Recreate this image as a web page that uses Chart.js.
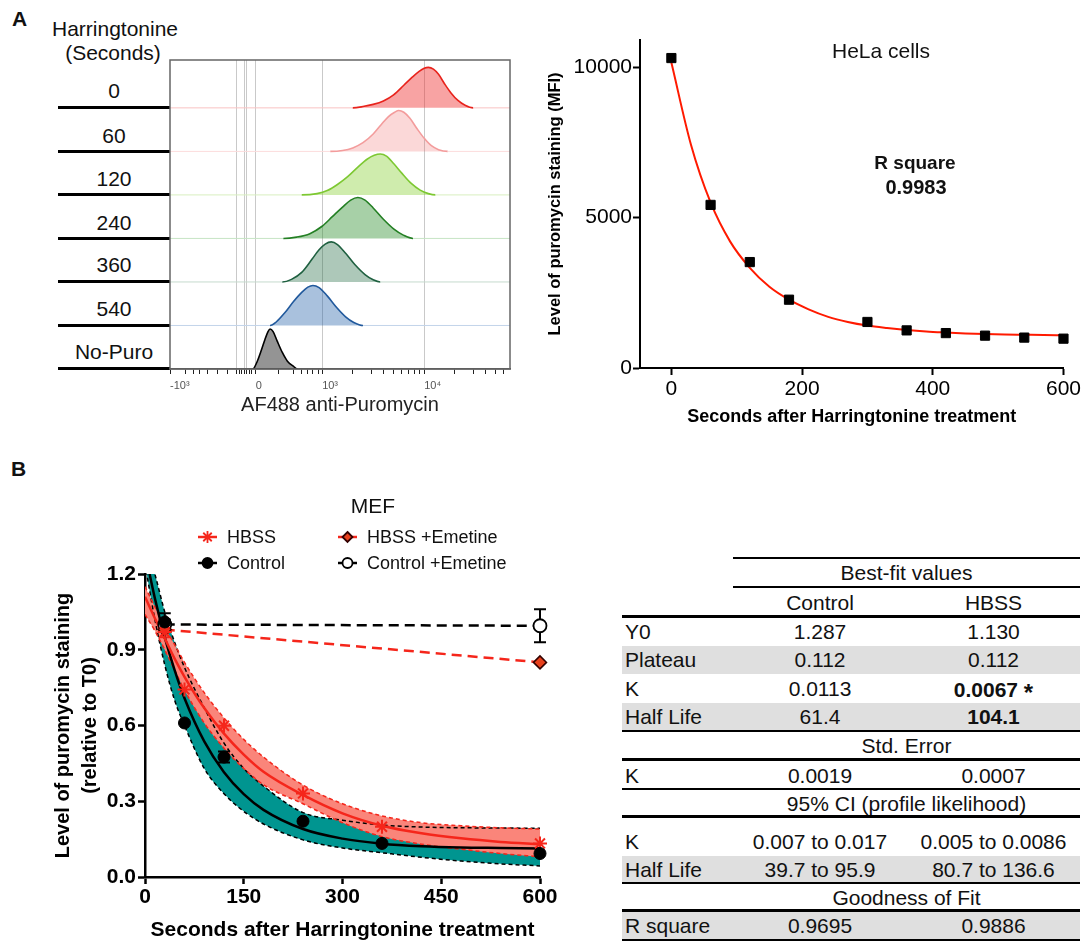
<!DOCTYPE html>
<html>
<head>
<meta charset="utf-8">
<script src="https://cdn.jsdelivr.net/npm/chart.js@4.4.0/dist/chart.umd.min.js"></script>
<style>
  body { margin: 0; width: 1083px; height: 941px; position: relative; overflow: hidden; background: #fff;
         font-family: "Liberation Sans", Arial, Helvetica, sans-serif; color: #111; }
  canvas { position: absolute; }
  .c { position: absolute; transform: translate(-50%, -50%); white-space: nowrap; line-height: 1; }
  .panel { position: absolute; font-weight: bold; font-size: 21px; line-height: 1; }
  .sep { position: absolute; left: 58px; width: 112px; height: 3px; background: #000; }
  .tline { position: absolute; background: #000; }
  .trow { position: absolute; left: 622px; width: 458px; font-size: 21px; }
  .trow div { position: absolute; top: 0; white-space: nowrap; }
</style>
</head>
<body>

<div class="panel" style="left:12px; top:8px">A</div>
<div class="panel" style="left:11px; top:458px">B</div>

<div class="c" style="left:115px; top:28px; font-size:21px">Harringtonine</div>
<div class="c" style="left:113px; top:52px; font-size:21px">(Seconds)</div>
<div id="rowLabels"></div>

<canvas id="flowChart" width="540" height="420" style="left:0; top:0"></canvas>
<canvas id="helaChart" width="543" height="440" style="left:540px; top:0"></canvas>
<canvas id="mefChart" width="560" height="491" style="left:0; top:450px"></canvas>

<div class="c" style="left:881px; top:50px; font-size:21px">HeLa cells</div>
<div class="c" style="left:915px; top:162px; font-size:19px; font-weight:bold">R square</div>
<div class="c" style="left:916px; top:187px; font-size:20px; font-weight:bold">0.9983</div>

<div id="fitTable"></div>

<script>
Chart.defaults.font.family = '"Liberation Sans", Arial, Helvetica, sans-serif';
Chart.defaults.color = '#000';

// ---- Panel A, flow histograms (x in logicle decades, height relative to row)
const flowLabels = ['0', '60', '120', '240', '360', '540', 'No-Puro'];
const hist0 = [[3.30, 0], [3.40, .03], [3.50, .08], [3.60, .16], [3.70, .30], [3.80, .52], [3.88, .70], [3.95, .84], [4.00, .91], [4.04, .93], [4.09, .89], [4.14, .77], [4.20, .55], [4.26, .35], [4.33, .17], [4.40, .06], [4.48, 0]];
const hist60 = [[3.08, 0], [3.20, .02], [3.30, .08], [3.40, .20], [3.50, .40], [3.58, .62], [3.65, .80], [3.71, .90], [3.75, .94], [3.80, .90], [3.86, .76], [3.93, .52], [4.00, .30], [4.07, .13], [4.14, .04], [4.23, 0]];
const hist120 = [[2.80, 0], [2.95, .03], [3.05, .10], [3.15, .24], [3.25, .42], [3.35, .64], [3.44, .82], [3.51, .91], [3.57, .94], [3.63, .89], [3.70, .72], [3.78, .50], [3.87, .27], [3.96, .11], [4.04, .03], [4.11, 0]];
const hist240 = [[2.62, 0], [2.75, .03], [2.88, .11], [3.00, .28], [3.10, .50], [3.20, .72], [3.28, .88], [3.35, .94], [3.42, .88], [3.50, .70], [3.60, .44], [3.70, .22], [3.80, .07], [3.89, 0]];
const hist360 = [[2.61, 0], [2.70, .06], [2.80, .22], [2.90, .52], [2.97, .74], [3.03, .87], [3.09, .92], [3.15, .86], [3.23, .66], [3.32, .40], [3.42, .17], [3.50, .05], [3.57, 0]];
const hist540 = [[2.49, 0], [2.55, .08], [2.63, .28], [2.72, .55], [2.80, .76], [2.86, .88], [2.91, .92], [2.97, .87], [3.05, .68], [3.14, .42], [3.23, .20], [3.31, .07], [3.40, 0]];
const histNoPuro = [[2.32, 0], [2.36, .15], [2.40, .40], [2.44, .68], [2.47, .86], [2.49, .92], [2.52, .86], [2.56, .64], [2.61, .38], [2.66, .18], [2.72, .06], [2.76, 0]];
const flowHists = [hist0, hist60, hist120, hist240, hist360, hist540, histNoPuro];

const flowMajor = [1.51, 2.35, 3, 4];
const flowMajorText = ['-10\u00B3', '0', '10\u00B3', '10\u2074'];
const flowMinor = [1.66, 1.74, 1.80, 1.88, 1.98, 2.07, 2.19, 2.21, 2.29, 2.31, 2.57, 2.72, 2.80, 2.86, 2.91, 2.96,
                   3.30, 3.48, 3.60, 3.70, 3.78, 3.85, 3.90, 3.95, 4.30, 4.48, 4.60, 4.70, 4.78];
const flowGridAt = [2.16, 2.24, 2.26, 2.35, 3, 4];

// ---- Panel A, HeLa MFI
const helaTime = [0, 60, 120, 180, 300, 360, 420, 480, 540, 600];
const helaMFI = [10300, 5420, 3520, 2270, 1530, 1250, 1160, 1075, 1010, 975];
const helaFitTime = [0, 30, 60, 90, 120, 150, 180, 210, 240, 270, 300, 330, 360, 390, 420, 450, 480, 510, 540, 570, 600];
const helaFit = [10150, 7420, 5500, 4200, 3330, 2700, 2270, 1950, 1700, 1530, 1410, 1330, 1265, 1215, 1180, 1150, 1130, 1115, 1105, 1095, 1090];

// ---- Panel B, MEF
const timePts = [30, 60, 120, 240, 360, 600];
const ctrlMean = [1.01, 0.61, 0.475, 0.221, 0.133, 0.093];
const ctrlErr = [0.035, 0, 0.022, 0, 0, 0];
const hbssMean = [0.97, 0.743, 0.599, 0.331, 0.199, 0.133];
const hbssErr = [0.02, 0, 0, 0, 0, 0];
const emetTime = [30, 600];
const ctrlEmet = [1.0, 0.995];
const ctrlEmetErr = [0.02, 0.065];
const hbssEmet = [0.98, 0.85];
const fitTime = [0, 15, 30, 45, 60, 90, 120, 150, 180, 240, 300, 360, 420, 480, 540, 600];
const ctrlFit = [1.287, 1.104, 0.949, 0.819, 0.708, 0.537, 0.415, 0.328, 0.266, 0.190, 0.152, 0.132, 0.122, 0.117, 0.115, 0.113];
const ctrlLow = [1.24, 1.02, 0.84, 0.70, 0.60, 0.43, 0.33, 0.26, 0.21, 0.147, 0.115, 0.096, 0.078, 0.063, 0.052, 0.044];
const ctrlHigh = [1.33, 1.20, 1.05, 0.93, 0.83, 0.67, 0.53, 0.43, 0.36, 0.255, 0.225, 0.206, 0.198, 0.195, 0.194, 0.193];
const hbssFit = [1.11, 1.025, 0.945, 0.865, 0.793, 0.669, 0.568, 0.485, 0.417, 0.325, 0.252, 0.203, 0.173, 0.153, 0.139, 0.130];
const hbssLow = [1.04, 0.975, 0.90, 0.82, 0.74, 0.61, 0.51, 0.43, 0.365, 0.29, 0.215, 0.16, 0.13, 0.11, 0.093, 0.080];
const hbssHigh = [1.15, 1.07, 0.99, 0.92, 0.85, 0.73, 0.63, 0.545, 0.475, 0.364, 0.29, 0.242, 0.215, 0.203, 0.195, 0.19];

// ---- Panel B, fit table
const fitParams = ['Y0', 'Plateau', 'K', 'Half Life'];
const ctrlBest = ['1.287', '0.112', '0.0113', '61.4'];
const hbssBest = ['1.130', '0.112', '0.0067', '104.1'];
const hbssBold = [false, false, true, true];
const stdErrK = ['0.0019', '0.0007'];
const ciParams = ['K', 'Half Life'];
const ctrlCI = ['0.007 to 0.017', '39.7 to 95.9'];
const hbssCI = ['0.005 to 0.0086', '80.7 to 136.6'];
const rSquare = ['0.9695', '0.9886'];

const red = '#f5261b';
const toXY = (xs, ys) => xs.map((x, i) => ({ x: x, y: ys[i] }));

// row labels and separators left of the histograms
const rowBox = document.getElementById('rowLabels');
const labelY = [90, 135, 178, 222, 264, 308, 351];
flowLabels.forEach((t, i) => {
    rowBox.insertAdjacentHTML('beforeend',
        '<div class="c" style="left:114px; top:' + labelY[i] + 'px; font-size:21px">' + t + '</div>' +
        '<div class="sep" style="top:' + (106 + i * 43.5) + 'px"></div>');
});

const frameBox = {
    id: 'frameBox',
    afterDatasetsDraw(chart) {
        const { ctx, chartArea: a } = chart;
        ctx.save();
        ctx.strokeStyle = '#666';
        ctx.lineWidth = 1.5;
        ctx.strokeRect(a.left, a.top, a.right - a.left, a.bottom - a.top);
        ctx.restore();
    }
};

// Flow histogram chart
const flowLine = ['#e8231c', '#f39c9c', '#7dc832', '#237f23', '#1f6040', '#21599c', '#000000'];
const flowFill = ['rgba(240,50,50,0.45)', 'rgba(240,100,100,0.25)', 'rgba(130,205,40,0.38)', 'rgba(60,150,60,0.45)',
                  'rgba(40,110,70,0.38)', 'rgba(40,100,170,0.4)', 'rgba(60,60,60,0.55)'];
const flowBaseLine = ['#f9c3c3', '#fcdcdc', '#d8efbf', '#c6e4c4', '#c5dacd', '#c3d4ea', '#555555'];
const flowMin = 1.51, flowMax = 4.84;
const flowTicks = [...new Set([...flowMajor, ...flowMinor, ...flowGridAt])].sort((a, b) => a - b);

new Chart(document.getElementById('flowChart'), {
    type: 'line',
    data: {
        datasets: flowHists.map((h, i) => {
            const base = 6 - i;
            return {
                data: [{ x: flowMin, y: base }, ...h.map(p => ({ x: p[0], y: base + p[1] })), { x: flowMax, y: base }],
                borderColor: flowLine[i],
                backgroundColor: flowFill[i],
                fill: { value: base },
                borderWidth: 1.5,
                pointRadius: 0,
                cubicInterpolationMode: 'monotone',
                segment: {
                    borderColor: c => (c.p0.parsed.y === base && c.p1.parsed.y === base) ? flowBaseLine[i] : flowLine[i],
                    borderWidth: c => (c.p0.parsed.y === base && c.p1.parsed.y === base) ? 1 : 1.6
                }
            };
        })
    },
    options: {
        responsive: false,
        animation: false,
        layout: { padding: { left: 170, top: 60, right: 30, bottom: 0 } },
        plugins: { legend: { display: false }, tooltip: { enabled: false } },
        scales: {
            x: {
                type: 'linear',
                min: flowMin,
                max: flowMax,
                afterBuildTicks: s => { s.ticks = flowTicks.map(v => ({ value: v })); },
                afterFit: s => { s.height = 51; },
                grid: {
                    color: c => (c.tick && flowGridAt.includes(c.tick.value)) ? '#c9c9c9' : 'rgba(0,0,0,0)',
                    tickColor: '#222',
                    tickLength: 5,
                    lineWidth: 1
                },
                border: { color: '#444', width: 1.5 },
                ticks: {
                    autoSkip: false,
                    maxRotation: 0,
                    align: 'start',
                    padding: 5,
                    color: '#555',
                    font: { size: 11 },
                    callback: v => { const k = flowMajor.indexOf(v); return k >= 0 ? flowMajorText[k] : ''; }
                },
                title: { display: true, text: 'AF488 anti-Puromycin', color: '#222', font: { size: 20, lineHeight: 1 }, padding: { top: 0, bottom: 5 } }
            },
            y: { min: 0, max: 7.1, display: false }
        }
    },
    plugins: [frameBox]
});

// HeLa chart
new Chart(document.getElementById('helaChart'), {
    type: 'line',
    data: {
        datasets: [
            {
                data: toXY(helaTime, helaMFI),
                showLine: false,
                pointStyle: 'rect',
                pointRadius: 6.5,
                pointBackgroundColor: '#000',
                pointBorderColor: '#000',
                clip: false
            },
            {
                data: toXY(helaFitTime, helaFit),
                borderColor: '#ff1a00',
                borderWidth: 2,
                pointRadius: 0,
                cubicInterpolationMode: 'monotone'
            }
        ]
    },
    options: {
        responsive: false,
        animation: false,
        layout: { padding: { left: 0, top: 40, right: 18, bottom: 0 } },
        plugins: { legend: { display: false }, tooltip: { enabled: false } },
        scales: {
            x: {
                type: 'linear',
                min: -48,
                max: 600,
                afterBuildTicks: s => { s.ticks = [0, 200, 400, 600].map(v => ({ value: v })); },
                afterFit: s => { s.height = 72; },
                grid: { drawOnChartArea: false, tickLength: 7, tickColor: '#000', tickWidth: 2 },
                border: { color: '#000', width: 2 },
                ticks: { font: { size: 21 }, padding: 2, callback: v => String(v) },
                title: { display: true, text: 'Seconds after Harringtonine treatment', font: { size: 18, weight: 'bold', lineHeight: 1 }, padding: { top: 0, bottom: 14 } }
            },
            y: {
                min: 0,
                max: 10900,
                afterBuildTicks: s => { s.ticks = [0, 5000, 10000].map(v => ({ value: v })); },
                afterFit: s => { s.width = 100; },
                grid: { drawOnChartArea: false, tickLength: 7, tickColor: '#000', tickWidth: 2 },
                border: { color: '#000', width: 2 },
                ticks: { font: { size: 21 }, padding: 1, callback: v => String(v) },
                title: { display: true, text: 'Level of puromycin staining (MFI)', font: { size: 16.5, weight: 'bold', lineHeight: 1 }, padding: { top: 7, bottom: 0 } }
            }
        }
    }
});

// MEF chart
const errorBars = {
    id: 'errorBars',
    beforeDatasetsDraw(chart) {
        const { ctx, scales: { x, y } } = chart;
        chart.data.datasets.forEach(ds => {
            if (!ds.errors) return;
            ctx.save();
            ctx.strokeStyle = ds.errColor;
            ctx.lineWidth = 2;
            ds.data.forEach((p, j) => {
                const e = ds.errors[j];
                if (!e) return;
                const px = x.getPixelForValue(p.x);
                const top = y.getPixelForValue(p.y + e);
                const bot = y.getPixelForValue(p.y - e);
                ctx.beginPath();
                ctx.moveTo(px, top); ctx.lineTo(px, bot);
                ctx.moveTo(px - 6, top); ctx.lineTo(px + 6, top);
                ctx.moveTo(px - 6, bot); ctx.lineTo(px + 6, bot);
                ctx.stroke();
            });
            ctx.restore();
        });
    }
};

function drawMarker(ctx, style, x, y, r, stroke, fill) {
    ctx.save();
    ctx.lineWidth = 1.8;
    ctx.strokeStyle = stroke;
    ctx.fillStyle = fill;
    ctx.beginPath();
    if (style === 'circle') {
        ctx.arc(x, y, r, 0, Math.PI * 2);
        ctx.fill(); ctx.stroke();
    } else if (style === 'rectRot') {
        ctx.moveTo(x, y - r); ctx.lineTo(x + r, y); ctx.lineTo(x, y + r); ctx.lineTo(x - r, y);
        ctx.closePath(); ctx.fill(); ctx.stroke();
    } else {
        for (let k = 0; k < 4; k++) {
            const a = k * Math.PI / 4;
            ctx.moveTo(x - r * Math.cos(a), y - r * Math.sin(a));
            ctx.lineTo(x + r * Math.cos(a), y + r * Math.sin(a));
        }
        ctx.stroke();
    }
    ctx.restore();
}

const mefLegend = [
    { text: 'HBSS', x: 198, y: 87, color: red, style: 'star', fill: red },
    { text: 'HBSS +Emetine', x: 338, y: 87, color: red, style: 'rectRot', fill: '#e8401c', edge: '#300' },
    { text: 'Control', x: 198, y: 113, color: '#000', style: 'circle', fill: '#000' },
    { text: 'Control +Emetine', x: 338, y: 113, color: '#000', style: 'circle', fill: '#fff' }
];

const legendPlugin = {
    id: 'mefLegend',
    afterDraw(chart) {
        const ctx = chart.ctx;
        ctx.save();
        ctx.fillStyle = '#111';
        ctx.textBaseline = 'middle';
        ctx.textAlign = 'center';
        ctx.font = '21px "Liberation Sans", Arial, sans-serif';
        ctx.fillText('MEF', 373, 57);
        ctx.textAlign = 'left';
        ctx.font = '18px "Liberation Sans", Arial, sans-serif';
        mefLegend.forEach(it => {
            ctx.strokeStyle = it.color;
            ctx.lineWidth = 2.5;
            ctx.beginPath();
            ctx.moveTo(it.x, it.y); ctx.lineTo(it.x + 19, it.y);
            ctx.stroke();
            drawMarker(ctx, it.style, it.x + 9.5, it.y, it.style === 'star' ? 6 : 5, it.edge || it.color, it.fill);
            ctx.fillStyle = '#111';
            ctx.fillText(it.text, it.x + 29, it.y + 1);
        });
        ctx.restore();
    }
};

const bandLine = { pointRadius: 0, borderWidth: 1.5, borderDash: [4, 3], cubicInterpolationMode: 'monotone' };
const fitLine = { pointRadius: 0, borderWidth: 2.5, cubicInterpolationMode: 'monotone', fill: false };

new Chart(document.getElementById('mefChart'), {
    type: 'line',
    data: {
        datasets: [
            { ...bandLine, data: toXY(fitTime, ctrlHigh), borderColor: '#000', backgroundColor: '#009590', fill: '+1', order: 10 },
            { ...bandLine, data: toXY(fitTime, ctrlLow), borderColor: '#000', fill: false, order: 9 },
            { ...bandLine, data: toXY(fitTime, hbssHigh), borderColor: red, backgroundColor: '#fa857a', fill: '+1', order: 8 },
            { ...bandLine, data: toXY(fitTime, hbssLow), borderColor: red, fill: false, order: 7 },
            { ...fitLine, data: toXY(fitTime, ctrlFit), borderColor: '#000', order: 6 },
            { ...fitLine, data: toXY(fitTime, hbssFit), borderColor: red, order: 5 },
            {
                label: 'Control +Emetine', data: toXY(emetTime, ctrlEmet), borderColor: '#000', borderWidth: 2.5, borderDash: [10, 6],
                pointStyle: 'circle', pointRadius: 6.5, pointBackgroundColor: '#fff', pointBorderColor: '#000', pointBorderWidth: 1.8,
                errors: ctrlEmetErr, errColor: '#000', clip: false, fill: false, order: 4
            },
            {
                label: 'HBSS +Emetine', data: toXY(emetTime, hbssEmet), borderColor: red, borderWidth: 2.5, borderDash: [10, 6],
                pointStyle: 'rectRot', pointRadius: 6.5, pointBackgroundColor: '#e8401c', pointBorderColor: '#300', pointBorderWidth: 1.5,
                clip: false, fill: false, order: 3
            },
            {
                label: 'HBSS', data: toXY(timePts, hbssMean), showLine: false, pointStyle: 'star', pointRadius: 7,
                pointBorderColor: red, pointBorderWidth: 2, errors: hbssErr, errColor: red, clip: false, order: 2
            },
            {
                label: 'Control', data: toXY(timePts, ctrlMean), showLine: false, pointStyle: 'circle', pointRadius: 6,
                pointBackgroundColor: '#000', pointBorderColor: '#000', errors: ctrlErr, errColor: '#000', clip: false, order: 1
            }
        ]
    },
    options: {
        responsive: false,
        animation: false,
        layout: { padding: { left: 0, top: 124, right: 20, bottom: 0 } },
        plugins: {
            filler: { drawTime: 'beforeDatasetsDraw' },
            legend: { display: false },
            tooltip: { enabled: false }
        },
        scales: {
            x: {
                type: 'linear',
                min: 0,
                max: 600,
                ticks: { stepSize: 150, font: { size: 21, weight: 'bold' }, padding: 1 },
                afterFit: s => { s.height = 64; },
                grid: { drawOnChartArea: false, tickLength: 7, tickColor: '#000', tickWidth: 2.5 },
                border: { color: '#000', width: 2.5 },
                title: { display: true, text: 'Seconds after Harringtonine treatment', font: { size: 21, weight: 'bold', lineHeight: 1 }, padding: { top: 0, bottom: 0.5 } }
            },
            y: {
                min: 0,
                max: 1.2,
                ticks: { stepSize: 0.3, font: { size: 21, weight: 'bold' }, padding: 2, callback: v => v.toFixed(1) },
                afterFit: s => { s.width = 145; },
                grid: { drawOnChartArea: false, tickLength: 7, tickColor: '#000', tickWidth: 2.5 },
                border: { color: '#000', width: 2.5 },
                title: { display: true, text: ['Level of puromycin staining', '(relative to T0)'], font: { size: 20, weight: 'bold', lineHeight: 1.35 }, padding: { top: 49.5, bottom: 0 } }
            }
        }
    },
    plugins: [errorBars, legendPlugin]
});

// Fit summary table
const tbl = document.getElementById('fitTable');
function addRow(top, h, cells, grey) {
    const d = document.createElement('div');
    d.className = 'trow';
    d.style.top = top + 'px';
    d.style.height = h + 'px';
    d.style.lineHeight = h + 'px';
    if (grey) d.style.background = '#dfdfdf';
    cells.forEach(c => {
        const s = document.createElement('div');
        s.innerHTML = c.html;
        s.style.left = c.left + 'px';
        if (c.width) { s.style.width = c.width + 'px'; s.style.textAlign = 'center'; }
        if (c.bold) s.style.fontWeight = 'bold';
        d.appendChild(s);
    });
    tbl.appendChild(d);
}
function addLine(y, x0, w) {
    tbl.insertAdjacentHTML('beforeend', '<div class="tline" style="left:' + x0 + 'px; top:' + y + 'px; width:' + (1080 - x0) + 'px; height:' + w + 'px"></div>');
}
const span = t => [{ html: t, left: 111, width: 347 }];
const triple = (a, b, c, bold) => [{ html: a, left: 3 }, { html: b, left: 111, width: 174 }, { html: c, left: 285, width: 173, bold: bold }];

addRow(559, 28, span('Best-fit values'));
addRow(589, 28, [{ html: 'Control', left: 111, width: 174 }, { html: 'HBSS', left: 285, width: 173 }]);
const bestTop = [618, 646, 674, 703];
const bestH = [28, 28, 29, 28];
fitParams.forEach((p, i) => {
    const v = hbssBold[i] && i === 2 ? hbssBest[i] + ' <span style="font-size:24px; position:relative; top:4px">*</span>' : hbssBest[i];
    addRow(bestTop[i], bestH[i], triple(p, ctrlBest[i], v, hbssBold[i]), i % 2 === 1);
});
addRow(732, 28, span('Std. Error'));
addRow(762, 27, triple('K', stdErrK[0], stdErrK[1]));
addRow(790, 27, span('95% CI (profile likelihood)'));
addRow(828, 28, triple(ciParams[0], ctrlCI[0], hbssCI[0]));
ciParams.slice(1).forEach((p, i) => addRow(856, 27, triple(p, ctrlCI[i + 1], hbssCI[i + 1]), true));
addRow(885, 26, span('Goodness of Fit'));
addRow(912, 28, triple('R square', rSquare[0], rSquare[1]), true);

addLine(557, 733, 1.5);
addLine(586, 733, 2);
addLine(615, 622, 2.5);
addLine(730, 622, 1.5);
addLine(758, 622, 2.5);
addLine(788, 622, 1.5);
addLine(815, 622, 2.5);
addLine(882, 622, 1.5);
addLine(909, 622, 2.5);
addLine(939, 622, 1.5);
</script>
</body>
</html>
